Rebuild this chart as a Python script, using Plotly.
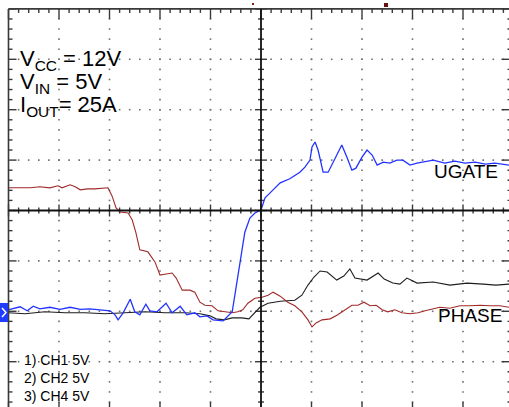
import numpy as np
import plotly.graph_objects as go

# scope grab geometry, in pixels
W, H = 509, 407
X0, Y0 = 261, 210.5      # centre of the graticule
DX, DY = 50.5, 50.4      # pixels per division


def px2x(p):
    return (p - X0) / DX


def px2y(p):
    return (Y0 - p) / DY


# waveforms, in divisions from screen centre (5V/div on every channel)
ugate_x = [-5.01, -4.91, -4.77, -4.63, -4.51, -4.38, -4.18, -3.98, -3.78, -3.58, -3.39, -3.19,
           -2.99, -2.89, -2.83, -2.73, -2.59, -2.50, -2.40, -2.28, -2.20, -2.06, -1.88, -1.76,
           -1.60, -1.47, -1.31, -1.21, -1.07, -0.95, -0.75, -0.57, -0.48, -0.38, -0.32, -0.22,
           -0.12, 0.00, 0.08, 0.18, 0.38, 0.57, 0.77, 0.87, 0.97, 1.01, 1.07, 1.13, 1.23, 1.33,
           1.47, 1.60, 1.70, 1.80, 1.88, 2.00, 2.10, 2.20, 2.30, 2.42, 2.55, 2.69, 2.81, 2.95,
           3.09, 3.21, 3.41, 3.64, 3.84, 4.04, 4.24, 4.44, 4.63, 4.91]
ugate_y = [-1.97, -1.95, -1.91, -1.99, -1.90, -1.95, -1.92, -1.96, -1.92, -1.96, -1.95, -1.97,
           -1.99, -2.07, -2.17, -2.03, -1.76, -2.01, -2.07, -1.86, -1.99, -2.01, -1.84, -2.03,
           -1.90, -2.07, -2.03, -2.11, -2.09, -2.17, -2.19, -2.01, -1.44, -0.88, -0.43, -0.15,
           -0.05, 0.01, 0.25, 0.35, 0.55, 0.63, 0.76, 0.86, 1.00, 1.26, 1.36, 1.20, 0.76, 0.76,
           1.04, 1.30, 1.06, 0.80, 0.84, 1.06, 1.20, 1.10, 0.90, 0.96, 0.94, 1.00, 1.00, 0.90,
           0.94, 0.96, 1.00, 0.94, 0.98, 0.94, 0.96, 0.92, 0.94, 0.90]

red_x = [-5.01, -4.77, -4.57, -4.38, -4.18, -4.02, -3.94, -3.78, -3.68, -3.58, -3.43, -3.29,
         -3.13, -3.03, -2.95, -2.87, -2.79, -2.63, -2.55, -2.48, -2.40, -2.24, -2.10, -2.00,
         -1.88, -1.76, -1.68, -1.56, -1.41, -1.31, -1.21, -1.11, -0.97, -0.85, -0.71, -0.57,
         -0.46, -0.36, -0.26, -0.12, 0.02, 0.14, 0.24, 0.38, 0.53, 0.67, 0.81, 0.93, 1.01,
         1.09, 1.21, 1.37, 1.52, 1.68, 1.80, 1.92, 2.04, 2.16, 2.28, 2.40, 2.51, 2.65, 2.79,
         2.95, 3.11, 3.25, 3.39, 3.54, 3.74, 3.94, 4.14, 4.34, 4.53, 4.73, 4.91]
red_y = [0.45, 0.45, 0.45, 0.47, 0.45, 0.49, 0.45, 0.51, 0.47, 0.41, 0.43, 0.43,
         0.45, 0.45, 0.29, 0.05, -0.03, -0.05, -0.19, -0.43, -0.78, -0.82, -1.02, -1.28,
         -1.26, -1.24, -1.34, -1.58, -1.58, -1.62, -1.82, -1.88, -1.89, -1.99, -2.01, -2.03,
         -2.01, -1.97, -1.84, -1.74, -1.72, -1.68, -1.62, -1.70, -1.82, -1.89, -2.01, -2.17, -2.31,
         -2.23, -2.17, -2.15, -2.07, -1.97, -1.88, -1.88, -1.82, -1.89, -1.88, -1.97, -2.01, -1.97, -2.03,
         -2.05, -2.03, -1.99, -1.95, -1.92, -1.94, -1.89, -1.89, -1.88, -1.89, -1.89, -1.92]

phase_x = [-5.01, -4.67, -4.28, -3.88, -3.49, -3.09, -2.69, -2.30, -1.90, -1.50, -1.21, -1.01,
           -0.89, -0.73, -0.57, -0.38, -0.24, -0.14, -0.02, 0.14, 0.38, 0.67, 0.81, 0.93, 1.05,
           1.17, 1.31, 1.50, 1.64, 1.76, 1.86, 2.10, 2.32, 2.44, 2.61, 2.75, 2.89, 3.09, 3.41,
           3.74, 4.08, 4.40, 4.65, 4.91]
phase_y = [-2.03, -2.05, -2.01, -2.03, -2.03, -2.05, -2.03, -2.01, -2.03, -2.03, -2.05, -2.09,
           -2.15, -2.17, -2.13, -2.13, -2.15, -2.05, -1.92, -1.84, -1.80, -1.78, -1.68, -1.48, -1.32,
           -1.20, -1.22, -1.38, -1.30, -1.16, -1.34, -1.38, -1.24, -1.36, -1.44, -1.46, -1.34, -1.44, -1.42,
           -1.48, -1.44, -1.46, -1.48, -1.46]

conditions = ["V<sub>CC</sub> = 12V", "V<sub>IN</sub> = 5V", "I<sub>OUT</sub>= 25A"]
channels = ["1) CH1 5V", "2) CH2 5V", "3) CH4 5V"]

fig = go.Figure()

# graticule dots, every 1/5 division along each major line
steps = np.round(np.arange(-25, 26) / 5, 2)
dot_x, dot_y = [], []
for gx in range(-4, 5):
    if gx != 0:
        dot_x += [gx] * len(steps[5:-5]); dot_y += list(steps[5:-5])
for gy in range(-3, 4):
    if gy != 0:
        dot_x += list(steps[1:-1]); dot_y += [gy] * len(steps[1:-1])
fig.add_trace(go.Scatter(x=dot_x, y=dot_y, mode="markers", hoverinfo="skip",
                         marker=dict(symbol="square", size=1.6, color="#707070", line_width=0)))

# frame and centre-axis tick marks
tx, ty = [], []


def seg(x1, y1, x2, y2):
    tx.extend([x1, x2, None]); ty.extend([y1, y2, None])


for s in np.round(np.arange(-25, 26) / 5, 2):
    major = float(s).is_integer()
    h = (6 if major else 3) / DY
    seg(s, -h, s, h)
    seg(s, 4, s, 4 - (10 if major else 4) / DY)
    seg(s, -4, s, -4 + (10 if major else 5) / DY)
for s in np.round(np.arange(-20, 21) / 5, 2):
    major = float(s).is_integer()
    w = (6 if major else 3) / DX
    seg(-w, s, w, s)
    seg(-5, s, -5 + (8 if major else 4) / DX, s)
    seg(5, s, 5 - (12 if major else 6) / DX, s)
fig.add_trace(go.Scatter(x=tx, y=ty, mode="lines", hoverinfo="skip",
                         line=dict(color="#3a3a3a", width=1.4)))

# traces
fig.add_trace(go.Scatter(x=phase_x, y=phase_y, mode="lines", name="CH4",
                         line=dict(color="#1e1e1e", width=1.1)))
fig.add_trace(go.Scatter(x=red_x, y=red_y, mode="lines", name="CH2",
                         line=dict(color="#a02a2a", width=1.1)))
fig.add_trace(go.Scatter(x=ugate_x, y=ugate_y, mode="lines", name="CH1",
                         line=dict(color="#2233ff", width=1.3)))

shapes = [
    dict(type="line", x0=-5, x1=-5, y0=-4, y1=4, line=dict(color="#3a3a3a", width=1.6)),
    dict(type="line", x0=-5, x1=5, y0=4, y1=4, line=dict(color="#3a3a3a", width=1.6)),
    dict(type="line", x0=-5, x1=5, y0=0, y1=0, line=dict(color="#111111", width=1.8)),
    dict(type="line", x0=0, x1=0, y0=-4, y1=4, line=dict(color="#111111", width=1.8)),
    # CH1 ground marker
    dict(type="rect", x0=px2x(0), x1=px2x(8), y0=px2y(322), y1=px2y(303),
         fillcolor="#1f3cff", line_width=0),
    dict(type="path", path=f"M {px2x(2)} {px2y(308)} L {px2x(6)} {px2y(312.5)} L {px2x(2)} {px2y(317)}",
         line=dict(color="white", width=1.5)),
    # trigger markers on top
    dict(type="rect", x0=px2x(252), x1=px2x(254), y0=px2y(5), y1=px2y(3),
         fillcolor="#8b1a1a", line_width=0),
    dict(type="rect", x0=px2x(384), x1=px2x(388), y0=px2y(7), y1=px2y(3),
         fillcolor="#6b1010", line_width=0),
]

ann = []
for i, t in enumerate(conditions):
    ann.append(dict(x=px2x(18), y=px2y(60 + 23 * i), text=t, showarrow=False,
                    xanchor="left", yanchor="middle",
                    font=dict(family="Liberation Sans, Arial", size=22, color="black")))
for i, t in enumerate(channels):
    ann.append(dict(x=px2x(22), y=px2y(360 + 18 * i), text=t, showarrow=False,
                    xanchor="left", yanchor="middle",
                    font=dict(family="Liberation Sans, Arial", size=14, color="black")))
ann.append(dict(x=px2x(432), y=px2y(171), text="UGATE", showarrow=False, xanchor="left",
                yanchor="middle", font=dict(family="Liberation Sans, Arial", size=19, color="black")))
ann.append(dict(x=px2x(436), y=px2y(315), text="PHASE", showarrow=False, xanchor="left",
                yanchor="middle", font=dict(family="Liberation Sans, Arial", size=19, color="black")))

fig.update_layout(
    width=W, height=H,
    margin=dict(l=0, r=0, t=0, b=0),
    paper_bgcolor="white", plot_bgcolor="white",
    showlegend=False,
    shapes=shapes, annotations=ann,
    xaxis=dict(range=[px2x(0), px2x(W)], visible=False, fixedrange=True),
    yaxis=dict(range=[px2y(H), px2y(0)], visible=False, fixedrange=True),
)

# the scope grab fills the whole window, so drop the page margin
fig.write_html("out.html", config={"displayModeBar": False},
               post_script="document.body.style.margin='0';")
